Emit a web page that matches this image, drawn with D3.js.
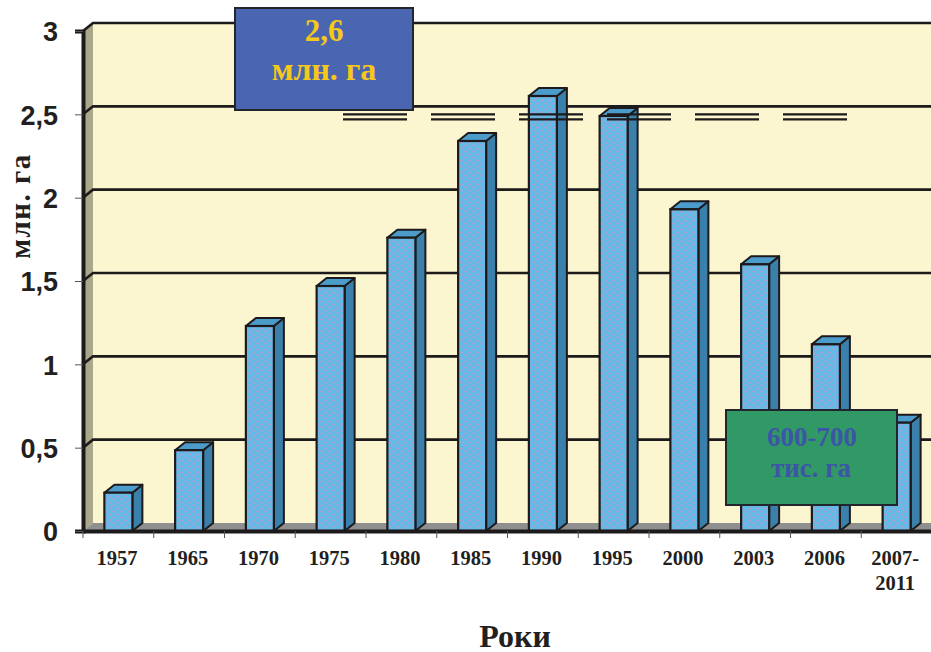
<!DOCTYPE html>
<html>
<head lang="uk">
    <meta charset="UTF-8">
    <title>Роки</title>
    <script src="https://cdn.jsdelivr.net/npm/d3@7/dist/d3.min.js"></script>
    <style>
        html, body { margin: 0; padding: 0; background: #fff; }
        svg { display: block; }
        .yLabel { font: bold 27px "Liberation Sans", Arial, sans-serif; fill: #231f20; }
        .xLabel { font: bold 20.5px "Liberation Serif", "Times New Roman", serif; fill: #231f20; }
        .serif { font-family: "Liberation Serif", "Times New Roman", serif; font-weight: bold; }
    </style>
</head>
<body>
<svg id="chart" width="931" height="652"></svg>
<script type="text/javascript">
var years = ['1957', '1965', '1970', '1975', '1980', '1985', '1990', '1995', '2000', '2003', '2006', '2007-2011'];
var areaValues = [0.23, 0.485, 1.23, 1.47, 1.76, 2.34, 2.61, 2.49, 1.93, 1.6, 1.12, 0.65];
var yTicks = [0, 0.5, 1, 1.5, 2, 2.5, 3];
var yTickLabels = ['0', '0,5', '1', '1,5', '2', '2,5', '3'];

var plotLeft = 83, plotRight = 932, plotTop = 31, plotBottom = 531;
var depthX = 10, depthY = 8;
var ink = '#1c1a1b';

var svg = d3.select('#chart');
var x = d3.scaleBand().domain(years).range([plotLeft, plotRight]);
var y = d3.scaleLinear().domain([0, 3]).range([plotBottom, plotTop]);

// pattern for the bar fronts, blue with small pink dots
var defs = svg.append('defs');
var pat = defs.append('pattern').attr('id', 'barDots').attr('patternUnits', 'userSpaceOnUse')
    .attr('width', 8).attr('height', 6);
pat.append('rect').attr('width', 8).attr('height', 6).attr('fill', '#5fbce8');
pat.append('ellipse').attr('cx', 2).attr('cy', 1.5).attr('rx', 2).attr('ry', 1).attr('fill', '#a89fd2');
pat.append('ellipse').attr('cx', 6).attr('cy', 4.5).attr('rx', 2).attr('ry', 1).attr('fill', '#a89fd2');

// back wall
svg.append('rect')
    .attr('x', plotLeft + depthX).attr('y', plotTop - depthY)
    .attr('width', plotRight - plotLeft).attr('height', plotBottom - plotTop)
    .attr('fill', '#fbf6cf');

// side wall
svg.append('path')
    .attr('d', d3.line()([[plotLeft, plotTop], [plotLeft + depthX, plotTop - depthY], [plotLeft + depthX, plotBottom - depthY], [plotLeft, plotBottom]]))
    .attr('fill', '#aaa888');

// floor
svg.append('path')
    .attr('d', d3.line()([[plotLeft, plotBottom], [plotLeft + depthX, plotBottom - depthY], [plotRight + depthX, plotBottom - depthY], [plotRight, plotBottom]]))
    .attr('fill', '#8f8f8f');

// grid lines with the little bend on the side wall
svg.append('g').selectAll('path')
    .data(yTicks.slice(1))
    .enter().append('path')
    .attr('d', function(d) {
        return d3.line()([[plotLeft, y(d)], [plotLeft + depthX, y(d) - depthY], [plotRight + depthX, y(d) - depthY]]);
    })
    .attr('fill', 'none')
    .attr('stroke', ink)
    .attr('stroke-width', 2.6);

// bars
var barW = 28, barOff = (x.bandwidth() - barW) / 2;
var bars = svg.append('g').selectAll('g')
    .data(years)
    .enter().append('g');

bars.append('path')   // side
    .attr('d', function(d, i) {
        var x1 = x(d) + barOff + barW, t = y(areaValues[i]);
        return d3.line()([[x1, t], [x1 + depthX, t - depthY], [x1 + depthX, plotBottom - depthY], [x1, plotBottom]]) + 'Z';
    })
    .attr('fill', '#3a80ab').attr('stroke', ink).attr('stroke-width', 2).attr('stroke-linejoin', 'round');

bars.append('path')   // top
    .attr('d', function(d, i) {
        var x0 = x(d) + barOff, t = y(areaValues[i]);
        return d3.line()([[x0, t], [x0 + depthX, t - depthY], [x0 + barW + depthX, t - depthY], [x0 + barW, t]]) + 'Z';
    })
    .attr('fill', '#4b9ccb').attr('stroke', ink).attr('stroke-width', 2).attr('stroke-linejoin', 'round');

bars.append('rect')   // front
    .attr('x', function(d) { return x(d) + barOff; })
    .attr('y', function(d, i) { return y(areaValues[i]); })
    .attr('width', barW)
    .attr('height', function(d, i) { return plotBottom - y(areaValues[i]); })
    .attr('fill', 'url(#barDots)')
    .attr('stroke', ink).attr('stroke-width', 2.2);

// double dashed line at 2,5
svg.append('g').selectAll('line')
    .data([2.5, 2.47])
    .enter().append('line')
    .attr('x1', 343).attr('x2', 848)
    .attr('y1', function(d) { return y(d); })
    .attr('y2', function(d) { return y(d); })
    .attr('stroke', ink)
    .attr('stroke-width', 2.2)
    .attr('stroke-dasharray', '64,24');

// axes
var yAxis = d3.axisLeft(y).tickValues(yTicks)
    .tickFormat(function(d, i) { return yTickLabels[i]; })
    .tickSize(8).tickPadding(17);
var gy = svg.append('g').attr('transform', 'translate(' + plotLeft + ',0)').call(yAxis);
gy.select('.domain').attr('stroke', ink).attr('stroke-width', 4);
gy.selectAll('.tick line').attr('stroke', '#555').attr('stroke-width', 1);
gy.selectAll('.tick text').attr('class', 'yLabel').attr('dy', '0.36em');

var xAxis = d3.axisBottom(x).tickSize(0).tickFormat('');
var gx = svg.append('g').attr('transform', 'translate(0,' + plotBottom + ')').call(xAxis);
gx.select('.domain').attr('stroke', ink).attr('stroke-width', 4);
gx.selectAll('.sep')
    .data(years)
    .enter().append('line')
    .attr('class', 'sep')
    .attr('x1', function(d) { return x(d); })
    .attr('x2', function(d) { return x(d); })
    .attr('y1', 0).attr('y2', 7)
    .attr('stroke', '#555').attr('stroke-width', 1);

var labels = svg.append('g').selectAll('text')
    .data(years)
    .enter().append('text')
    .attr('class', 'xLabel')
    .attr('text-anchor', 'middle')
    .attr('y', 565);
labels.each(function(d) {
    var parts = d.indexOf('-') > 0 ? [d.split('-')[0] + '-', d.split('-')[1]] : [d];
    var t = d3.select(this);
    parts.forEach(function(p, i) {
        t.append('tspan')
            .attr('x', x(d) + x.bandwidth() / 2 - 1.5)
            .attr('dy', i ? 25 : 0)
            .text(p);
    });
});

// axis titles
svg.append('text').attr('class', 'serif')
    .attr('transform', 'translate(30,206) rotate(-90)')
    .attr('text-anchor', 'middle')
    .style('font-size', '29px').style('letter-spacing', '1.5px').attr('fill', '#231f20')
    .text('млн. га');

svg.append('text').attr('class', 'serif')
    .attr('x', 515).attr('y', 647)
    .attr('text-anchor', 'middle')
    .style('font-size', '32px').attr('fill', '#231f20')
    .text('Роки');

// call-out boxes
function callout(bx, by, bw, bh, fill, color, lines) {
    svg.append('rect')
        .attr('x', bx).attr('y', by).attr('width', bw).attr('height', bh)
        .attr('fill', fill).attr('stroke', '#22262c').attr('stroke-width', 2);
    lines.forEach(function(l) {
        svg.append('text').attr('class', 'serif')
            .attr('x', l.x).attr('y', l.y)
            .attr('text-anchor', 'middle')
            .style('font-size', l.size + 'px').attr('fill', color)
            .text(l.text);
    });
}
callout(235, 8, 178, 102, '#4a66b0', '#f7c81a', [
    { x: 324, y: 41, size: 31, text: '2,6' },
    { x: 324, y: 80, size: 32, text: 'млн. га' }
]);
callout(726, 410, 171, 95, '#319966', '#3d55a5', [
    { x: 812, y: 446, size: 27, text: '600-700' },
    { x: 811, y: 477, size: 27, text: 'тис. га' }
]);
</script>
</body>
</html>
